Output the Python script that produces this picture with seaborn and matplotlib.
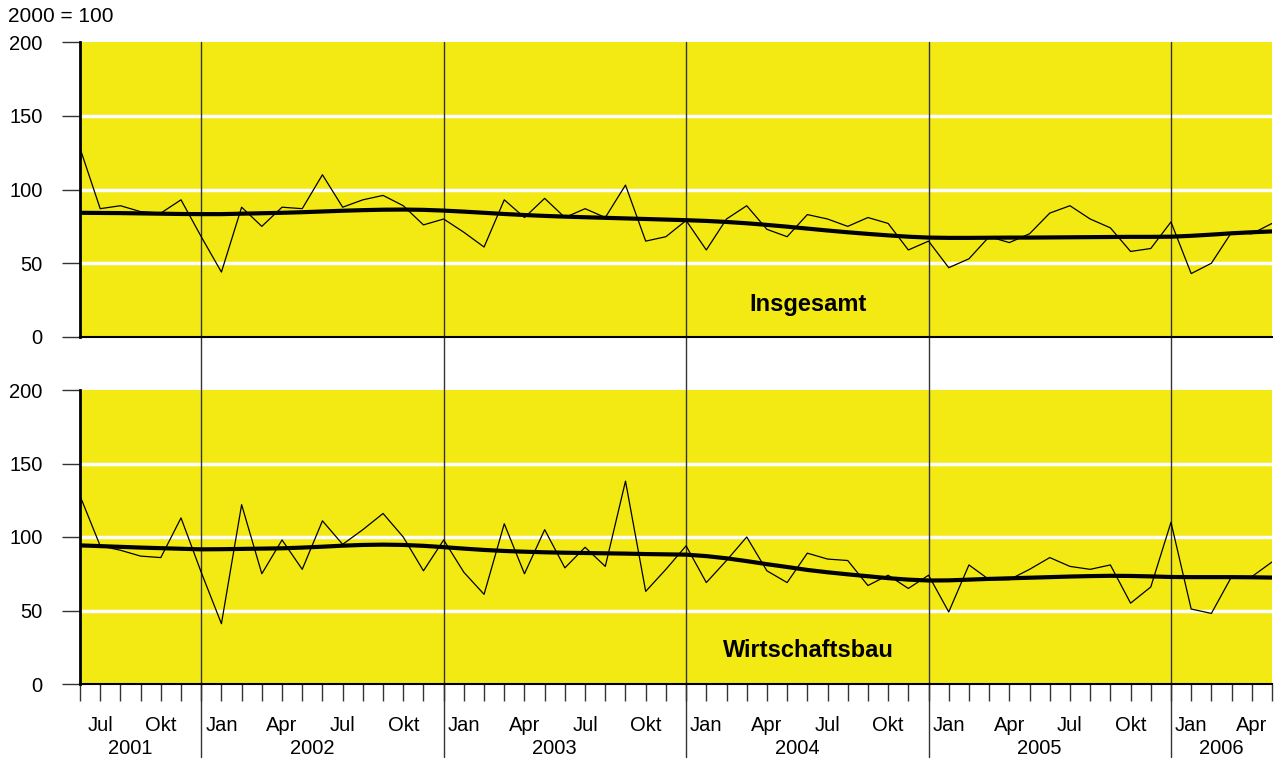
import matplotlib
matplotlib.use("Agg")
import matplotlib.pyplot as plt
import numpy as np
import pandas as pd
import seaborn as sns

# Monthly index values, Jun 2001 .. May 2006 (2000 = 100)
months = ['Jan', 'Feb', 'Mär', 'Apr', 'Mai', 'Jun', 'Jul', 'Aug', 'Sep', 'Okt', 'Nov', 'Dez']
start_month = 5  # Jun
years = ['2001', '2002', '2003', '2004', '2005', '2006']
year_label_pos = [2.5, 11.5, 23.5, 35.5, 47.5, 56.5]
year_breaks = [6, 18, 30, 42, 54]

insg_raw = [128, 87, 89, 85, 84, 93, 68, 44, 88, 75, 88, 87, 110, 88, 93, 96, 89, 76, 80, 71,
            61, 93, 81, 94, 81, 87, 81, 103, 65, 68, 79, 59, 80, 89, 73, 68, 83, 80, 75, 81,
            77, 59, 65, 47, 53, 68, 64, 70, 84, 89, 80, 74, 58, 60, 78, 43, 50, 71, 70, 77]
insg_trend = [84.2, 84.1, 84.0, 83.8, 83.6, 83.4, 83.3, 83.3, 83.6, 83.9, 84.2, 84.6, 85.1, 85.6,
              86.0, 86.3, 86.4, 86.2, 85.7, 85.0, 84.2, 83.4, 82.7, 82.1, 81.6, 81.2, 80.8, 80.4,
              80.0, 79.6, 79.2, 78.7, 78.0, 77.1, 76.0, 74.8, 73.5, 72.2, 71.0, 69.9, 68.9, 68.0,
              67.4, 67.2, 67.2, 67.3, 67.4, 67.4, 67.5, 67.6, 67.7, 67.8, 67.9, 67.9, 68.0, 68.6,
              69.4, 70.3, 71.0, 71.6]

wb_raw = [128, 94, 91, 87, 86, 113, 76, 41, 122, 75, 98, 78, 111, 95, 105, 116, 100, 77, 98, 76,
          61, 109, 75, 105, 79, 93, 80, 138, 63, 78, 94, 69, 84, 100, 77, 69, 89, 85, 84, 67,
          74, 65, 74, 49, 81, 71, 71, 78, 86, 80, 78, 81, 55, 66, 110, 51, 48, 73, 73, 83]
wb_trend = [94.3, 93.8, 93.3, 92.8, 92.4, 92.0, 91.6, 91.7, 91.9, 92.1, 92.3, 92.8, 93.4, 94.1,
            94.6, 94.8, 94.6, 94.0, 93.1, 92.1, 91.2, 90.5, 90.0, 89.6, 89.3, 89.1, 88.9, 88.7,
            88.4, 88.2, 88.0, 87.0, 85.5, 83.6, 81.5, 79.6, 77.6, 76.0, 74.6, 73.3, 72.0, 71.0,
            70.4, 70.5, 71.0, 71.5, 71.9, 72.3, 72.7, 73.1, 73.4, 73.6, 73.5, 73.2, 72.8, 72.7,
            72.7, 72.7, 72.6, 72.4]

sns.set_theme(style='white')
plt.rcParams['font.family'] = ['Liberation Sans', 'DejaVu Sans']
plt.rcParams['text.color'] = 'black'
plt.rcParams['xtick.labelcolor'] = 'black'
plt.rcParams['ytick.labelcolor'] = 'black'

YELLOW = '#F4EA13'
FS = 14.5
n = len(insg_raw)
idx = np.arange(n)

fig = plt.figure(figsize=(12.79, 7.58), dpi=100)
ax_top = fig.add_axes([80/1279, 1-337/758, 1192/1279, 295/758])
ax_bot = fig.add_axes([80/1279, 1-684/758, 1192/1279, 294/758])

panels = [(ax_top, insg_raw, insg_trend, 'Insgesamt'),
          (ax_bot, wb_raw, wb_trend, 'Wirtschaftsbau')]

for ax, raw, trend, name in panels:
    df = pd.DataFrame({'i': idx, 'raw': raw, 'trend': trend})
    ax.set_facecolor(YELLOW)
    for v in [50, 100, 150]:
        ax.axhline(v, color='white', lw=2.5, zorder=1)
    sns.lineplot(data=df, x='i', y='raw', ax=ax, color='black', lw=0.9, zorder=3)
    sns.lineplot(data=df, x='i', y='trend', ax=ax, color='black', lw=3, zorder=4)
    ax.set_xlim(0, n - 1)
    ax.set_ylim(0, 200)
    ax.set_xlabel('')
    ax.set_ylabel('')
    ax.set_yticks([0, 50, 100, 150, 200])
    ax.tick_params(axis='y', left=True, length=13, width=1, color='#333333',
                   pad=14, labelsize=FS)
    for s in ['top', 'right']:
        ax.spines[s].set_visible(False)
    ax.spines['left'].set_color('black')
    ax.spines['left'].set_linewidth(2)
    ax.spines['bottom'].set_color('black')
    ax.spines['bottom'].set_linewidth(1.5)
    ax.text(0.611, 0.11 if ax is ax_top else 0.114, name, transform=ax.transAxes,
            ha='center', va='center', fontsize=17, fontweight='bold')

# year separators running through both panels
for b in year_breaks:
    ax_top.axvline(b, ymin=-53/295, ymax=1, color='#333333', lw=1, clip_on=False, zorder=2)
    ax_bot.axvline(b, ymin=-73/294, ymax=1, color='#333333', lw=1, clip_on=False, zorder=2)

ax_top.set_xticks([])

labels = []
for i in idx:
    m = (start_month + i) % 12
    labels.append(months[m] if m in (0, 3, 6, 9) else '')
ax_bot.set_xticks(idx)
ax_bot.set_xticklabels(labels, fontsize=FS)
ax_bot.tick_params(axis='x', bottom=True, length=12, width=1, color='#333333', pad=11)

for pos, yr in zip(year_label_pos, years):
    ax_bot.text(pos, -65/294, yr, transform=ax_bot.get_xaxis_transform(),
                ha='center', va='center', fontsize=FS)

fig.text(8/1279, 1-17/758, '2000 = 100', ha='left', va='center', fontsize=15)

fig.savefig('out.png', dpi=100)
